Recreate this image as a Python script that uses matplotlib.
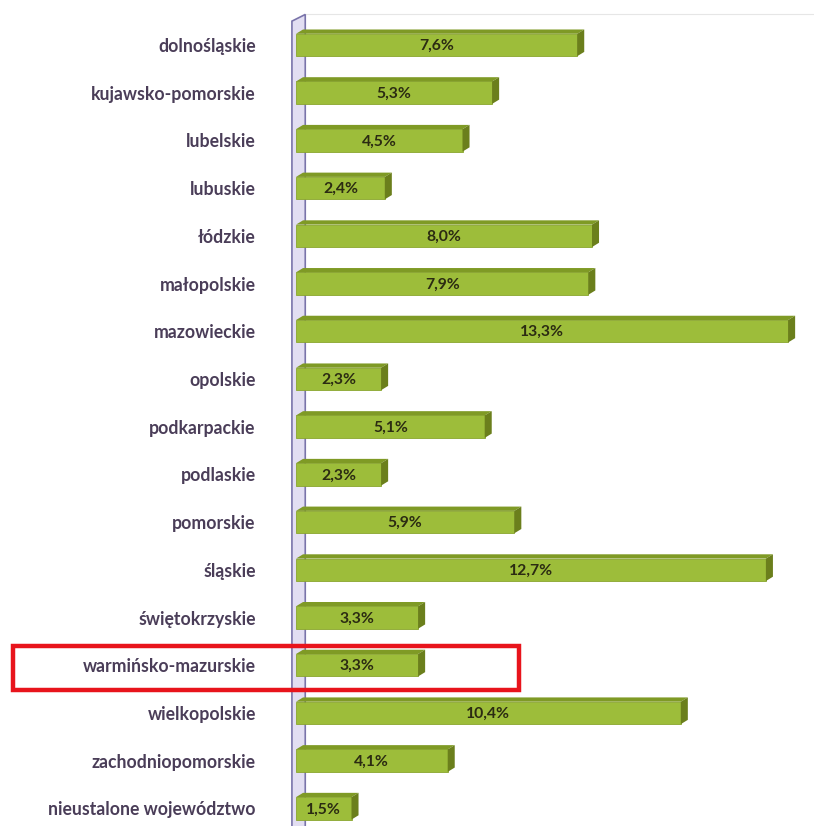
import matplotlib
matplotlib.use("Agg")
import matplotlib.pyplot as plt
from matplotlib.patches import Polygon, Rectangle

plt.rcParams['font.family'] = ['Lato', 'DejaVu Sans']

regions = ["dolnośląskie", "kujawsko-pomorskie", "lubelskie", "lubuskie", "łódzkie",
           "małopolskie", "mazowieckie", "opolskie", "podkarpackie", "podlaskie",
           "pomorskie", "śląskie", "świętokrzyskie", "warmińsko-mazurskie",
           "wielkopolskie", "zachodniopomorskie", "nieustalone województwo"]
values = [7.6, 5.3, 4.5, 2.4, 8.0, 7.9, 13.3, 2.3, 5.1, 2.3, 5.9, 12.7, 3.3, 3.3, 10.4, 4.1, 1.5]

front = "#9dbd3a"
top_c = "#7f9a25"
side_c = "#6b7f1c"

fig = plt.figure(figsize=(8.14, 8.26), dpi=100)
ax = fig.add_axes([296 / 814, 0, 518 / 814, 1])
ax.set_xlim(0, 14)
ax.set_ylim(16.37, -0.943)

h = 0.47
dx = 0.19   # depth in % units
dy = 0.09   # depth in row units

ypos = list(range(len(regions)))
ax.barh(ypos, values, height=h, color=front, edgecolor="#8aa52e", linewidth=0.6, zorder=3)

for y, v in zip(ypos, values):
    yt = y - h / 2
    yb = y + h / 2
    ax.add_patch(Polygon([(0, yt), (v, yt), (v + dx, yt - dy), (dx, yt - dy)],
                         closed=True, facecolor=top_c, edgecolor="none", zorder=3))
    ax.add_patch(Polygon([(v, yt), (v + dx, yt - dy), (v + dx, yb - dy), (v, yb)],
                         closed=True, facecolor=side_c, edgecolor="none", zorder=3))
    ax.text(v / 2, y + 0.02, f"{v:.1f}".replace(".", ",") + "%", ha="center", va="center",
            fontsize=11.3, fontweight="bold", color="#2b2b12", zorder=4)

# side wall of the 3D plot area
ax.add_patch(Polygon([(-0.11, 16.5), (-0.11, -0.5), (0.25, -0.64), (0.25, 16.5)],
                     closed=True, facecolor="#e2def2", edgecolor="#7a74aa", linewidth=1.2,
                     zorder=1, clip_on=False))
ax.plot([0.25, 14], [-0.64, -0.64], color="#e6e6e6", linewidth=0.8, zorder=0)

ax.set_yticks(ypos)
ax.set_yticklabels(regions, fontsize=12.7, fontweight="bold", color="#4a3d58")
ax.tick_params(axis="y", length=0, pad=29)
ax.set_xticks([])
for s in ax.spines.values():
    s.set_visible(False)

# frame around the highlighted region
fig.add_artist(Rectangle((13 / 814, 1 - 690 / 826), 506 / 814, 44 / 826,
                         transform=fig.transFigure, fill=False, edgecolor="#e8141c", linewidth=3.2))

fig.savefig("out.png", dpi=100, facecolor="white")
